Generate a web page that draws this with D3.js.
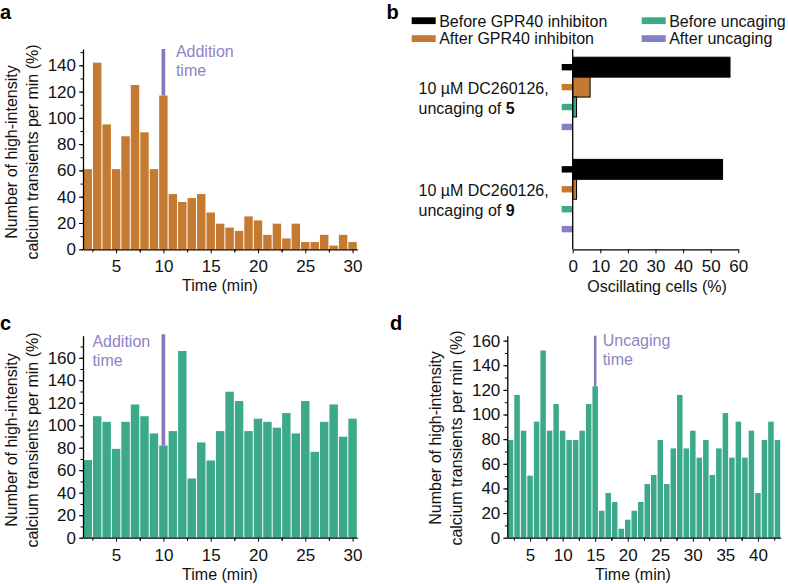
<!DOCTYPE html>
<html>
<head>
<meta charset="utf-8">
<script src="https://cdn.jsdelivr.net/npm/d3@7"></script>
<style>
  html, body { margin: 0; padding: 0; background: #fff; }
  svg { display: block; font-family: "Liberation Sans", Arial, Helvetica, sans-serif; }
</style>
</head>
<body>
<svg id="chart" width="788" height="584"></svg>
<script>
// ---------------- DATA ----------------
const minutesA = [2,3,4,5,6,7,8,9,10,11,12,13,14,15,16,17,18,19,20,21,22,23,24,25,26,27,28,29,30];
const valuesA  = [61,142,95,61,86,125,89,61,117,42,36,39,42,28,19.5,16.5,14,25,22,11,19.5,8.3,19.5,5.5,5.5,11,2.8,11,5.5];

const minutesC = [2,3,4,5,6,7,8,9,10,11,12,13,14,15,16,17,18,19,20,21,22,23,24,25,26,27,28,29,30];
const valuesC  = [69,108,103,79,103,118.5,108,92.7,82,94.8,166,52.7,84.7,68.7,94.8,129.8,121.5,94.8,105.8,103,97.8,110.8,92.7,121.5,76.4,103,118.5,89.8,105.8];

const minutesD = [2,3,4,5,6,7,8,9,10,11,12,13,14,15,16,17,18,19,20,21,22,23,24,25,26,27,28,29,30,31,32,33,34,35,36,37,38,39,40,41,42,43];
const valuesD  = [79.3,115.9,86.9,50.4,94.2,152,86.9,108.6,86.9,79.3,79.3,86.9,108.6,122.9,21.9,36.3,29,7.3,14.6,21.9,29,43.6,50.9,79.3,43.6,72.5,115.9,72.5,86.9,65,79.3,50.9,72.5,101.2,65,94.2,65,86.9,36.3,79.3,94.2,79.3];

const bGroups  = ["5", "9"];
const bSeries  = ["Before GPR40 inhibiton", "After GPR40 inhibiton", "Before uncaging", "After uncaging"];
const bValues5 = [57, 6.3, 1.4, 0];
const bValues9 = [54.3, 1.4, 0, 0];

const ticksA = [0,20,40,60,80,100,120,140];
const ticksCD = [0,20,40,60,80,100,120,140,160];
const ticksTime30 = [5,10,15,20,25,30];
const ticksTime43 = [5,10,15,20,25,30,35,40];
const ticksB = [0,10,20,30,40,50,60];

const eventA = 10, eventC = 10, eventD = 15;

// ---------------- STYLE ----------------
const ORANGE = "#c47b31", TEAL = "#3ca98b", PURPLE = "#8678bf", PURPLE_TXT = "#8d84c4", PURPLE_B = "#8480c6";
const TICK_FS = 17, TXT_FS = 16;

const svg = d3.select("#chart");

function histPanel(opt) {
  const g = svg.append("g");
  const x = d3.scaleLinear().domain(opt.xDomain).range(opt.xRange);
  const y = d3.scaleLinear().domain(opt.yDomain).range(opt.yRange);
  const step = x(1) - x(0);

  // bars
  g.selectAll("rect.bar").data(opt.minutes.map((m, i) => ({m, v: opt.values[i]})))
    .enter().append("rect")
    .attr("x", d => x(d.m - 0.5) + 0.5)
    .attr("width", step - 1)
    .attr("y", d => y(d.v))
    .attr("height", d => y(0) - y(d.v))
    .attr("fill", opt.color);

  // event line
  const ev = opt.minutes.indexOf(opt.event);
  g.append("line")
    .attr("x1", x(opt.event)).attr("x2", x(opt.event))
    .attr("y1", opt.lineTop).attr("y2", y(opt.values[ev]))
    .attr("stroke", PURPLE).attr("stroke-width", opt.lineW);
  const t = g.append("text").attr("fill", PURPLE_TXT).attr("font-size", TXT_FS);
  t.append("tspan").attr("x", x(opt.event) + opt.labDx).attr("y", opt.labY).text(opt.label[0]);
  t.append("tspan").attr("x", x(opt.event) + opt.labDx).attr("y", opt.labY + 19).text(opt.label[1]);

  // y axis
  const yMinor = d3.range(0, opt.yDomain[1], 10);
  g.append("g").attr("transform", `translate(${x(opt.xDomain[0])},0)`)
    .call(d3.axisLeft(y).tickValues(yMinor).tickSize(2.5).tickFormat("").tickSizeOuter(0))
    .call(s => s.select(".domain").remove());
  g.append("g").attr("transform", `translate(${x(opt.xDomain[0])},0)`)
    .call(d3.axisLeft(y).tickValues(opt.yTicks).tickSize(4).tickPadding(3).tickSizeOuter(0))
    .call(s => s.selectAll("text").attr("font-size", TICK_FS).attr("font-family", null).attr("fill", "#111"))
    .call(s => s.select(".domain").attr("stroke-width", 1.3));

  // x axis
  const xMinor = opt.xTicks.map(v => v - 2.5).concat(opt.xTicks.map(v => v + 2.5))
    .filter(v => v > opt.xDomain[0] && v < opt.xDomain[1]);
  g.append("g").attr("transform", `translate(0,${y(0)})`)
    .call(d3.axisBottom(x).tickValues(xMinor).tickSize(3).tickFormat("").tickSizeOuter(0))
    .call(s => s.select(".domain").remove());
  g.append("g").attr("transform", `translate(0,${y(0)})`)
    .call(d3.axisBottom(x).tickValues(opt.xTicks).tickSize(4).tickPadding(7).tickSizeOuter(0))
    .call(s => s.selectAll("text").attr("font-size", TICK_FS).attr("font-family", null).attr("fill", "#111"))
    .call(s => s.select(".domain").attr("stroke-width", 1.3));

  // axis titles
  g.append("text").attr("x", opt.xTitleX).attr("y", y(0) + 42)
    .attr("text-anchor", "middle").attr("font-size", TXT_FS).attr("fill", "#111").text("Time (min)");
  const yc = opt.yTitleY;
  const yt = g.append("text").attr("transform", `translate(${opt.yTitleX},${yc}) rotate(-90)`)
    .attr("text-anchor", "middle").attr("font-size", TXT_FS).attr("fill", "#111");
  yt.append("tspan").attr("x", 0).attr("y", 0).attr("dy", "0.35em").text("Number of high-intensity");
  yt.append("tspan").attr("x", 0).attr("y", 21).attr("dy", "0.35em").text("calcium transients per min (%)");

  // panel letter
  svg.append("text").attr("x", opt.letterX).attr("y", opt.letterY)
    .attr("font-size", 20).attr("font-weight", "bold").attr("fill", "#000").text(opt.letter);
}

histPanel({
  minutes: minutesA, values: valuesA, color: ORANGE,
  xDomain: [1.5, 30.5], xRange: [83, 357.3],
  yDomain: [0, 152.4], yRange: [249.3, 49],
  yTicks: ticksA, xTicks: ticksTime30,
  event: eventA, lineTop: 49, lineW: 3.7, label: ["Addition", "time"], labDx: 12.5, labY: 57.3,
  xTitleX: 220, yTitleX: 11, yTitleY: 152, letter: "a", letterX: 0, letterY: 19
});

histPanel({
  minutes: minutesC, values: valuesC, color: TEAL,
  xDomain: [1.5, 30.5], xRange: [83, 357.3],
  yDomain: [0, 179.6], yRange: [537.7, 335.7],
  yTicks: ticksCD, xTicks: ticksTime30,
  event: eventC, lineTop: 334.3, lineW: 3.7, label: ["Addition", "time"], labDx: -71, labY: 346.7,
  xTitleX: 220, yTitleX: 11, yTitleY: 440, letter: "c", letterX: 0, letterY: 330
});

histPanel({
  minutes: minutesD, values: valuesD, color: TEAL,
  xDomain: [1.5, 43.5], xRange: [507.3, 780.7],
  yDomain: [0, 164], yRange: [537.7, 335.7],
  yTicks: ticksCD, xTicks: ticksTime43,
  event: eventD, lineTop: 335.7, lineW: 2.5, label: ["Uncaging", "time"], labDx: 7.5, labY: 345.5,
  xTitleX: 633, yTitleX: 435, yTitleY: 438, letter: "d", letterX: 390, letterY: 330
});

// ---------------- PANEL B ----------------
(function () {
  const g = svg.append("g");
  const colors = ["#000000", ORANGE, TEAL, PURPLE_B];
  const x = d3.scaleLinear().domain([0, 60]).range([572.7, 738.3]);
  const y0 = d3.scaleBand().domain(bGroups).range([47, 249.3]).paddingInner(0.22).paddingOuter(0.1);
  const y1 = d3.scaleBand().domain(bSeries).range([0, y0.bandwidth()]);
  const vals = { "5": bValues5, "9": bValues9 };

  bGroups.forEach(grp => {
    const gg = g.append("g").attr("transform", `translate(0,${y0(grp)})`);
    const data = bSeries.map((s, i) => ({s, v: vals[grp][i], c: colors[i]}));
    // stubs left of axis
    gg.selectAll("rect.stub").data(data).enter().append("rect")
      .attr("x", x(0) - 11).attr("width", 11)
      .attr("y", d => y1(d.s) + y1.bandwidth() / 2 - 3.2).attr("height", 6.4)
      .attr("fill", d => d.c);
    // bars
    gg.selectAll("rect.bar").data(data.filter(d => d.v > 0)).enter().append("rect")
      .attr("x", x(0)).attr("width", d => x(d.v) - x(0))
      .attr("y", d => y1(d.s)).attr("height", y1.bandwidth())
      .attr("fill", d => d.c).attr("stroke", "#000").attr("stroke-width", 1);
    // label
    const c = y0(grp) + y0.bandwidth() / 2;
    const t = g.append("text").attr("font-size", TXT_FS).attr("fill", "#111");
    t.append("tspan").attr("x", 418.5).attr("y", c - 3).text("10 \u00b5M DC260126,");
    const t2 = t.append("tspan").attr("x", 418.5).attr("y", c + 17);
    t2.append("tspan").text("uncaging of ");
    t2.append("tspan").attr("font-weight", "bold").text(grp);
  });

  // axes
  g.append("line").attr("x1", x(0)).attr("x2", x(0)).attr("y1", 49.3).attr("y2", 249.3)
    .attr("stroke", "#000").attr("stroke-width", 1.3);
  g.append("g").attr("transform", "translate(0,249.3)")
    .call(d3.axisBottom(x).tickValues(ticksB).tickSize(4).tickPadding(7).tickSizeOuter(0))
    .call(s => s.selectAll("text").attr("font-size", TICK_FS).attr("font-family", null).attr("fill", "#111"))
    .call(s => s.select(".domain").attr("stroke-width", 1.3));
  g.append("text").attr("x", 657).attr("y", 291.5).attr("text-anchor", "middle")
    .attr("font-size", TXT_FS).attr("fill", "#111").text("Oscillating cells (%)");

  // legend
  const legPos = [[411.7, 20.7], [411.7, 38.6], [641.7, 20.7], [641.7, 38.6]];
  bSeries.forEach((s, i) => {
    g.append("rect").attr("x", legPos[i][0]).attr("y", legPos[i][1] - 3.4)
      .attr("width", 24).attr("height", 6.8).attr("fill", colors[i]);
    g.append("text").attr("x", legPos[i][0] + 27.5).attr("y", legPos[i][1] + 5.8)
      .attr("font-size", TXT_FS).attr("fill", "#111").text(s);
  });

  svg.append("text").attr("x", 386.5).attr("y", 19)
    .attr("font-size", 20).attr("font-weight", "bold").attr("fill", "#000").text("b");
})();
</script>
</body>
</html>
